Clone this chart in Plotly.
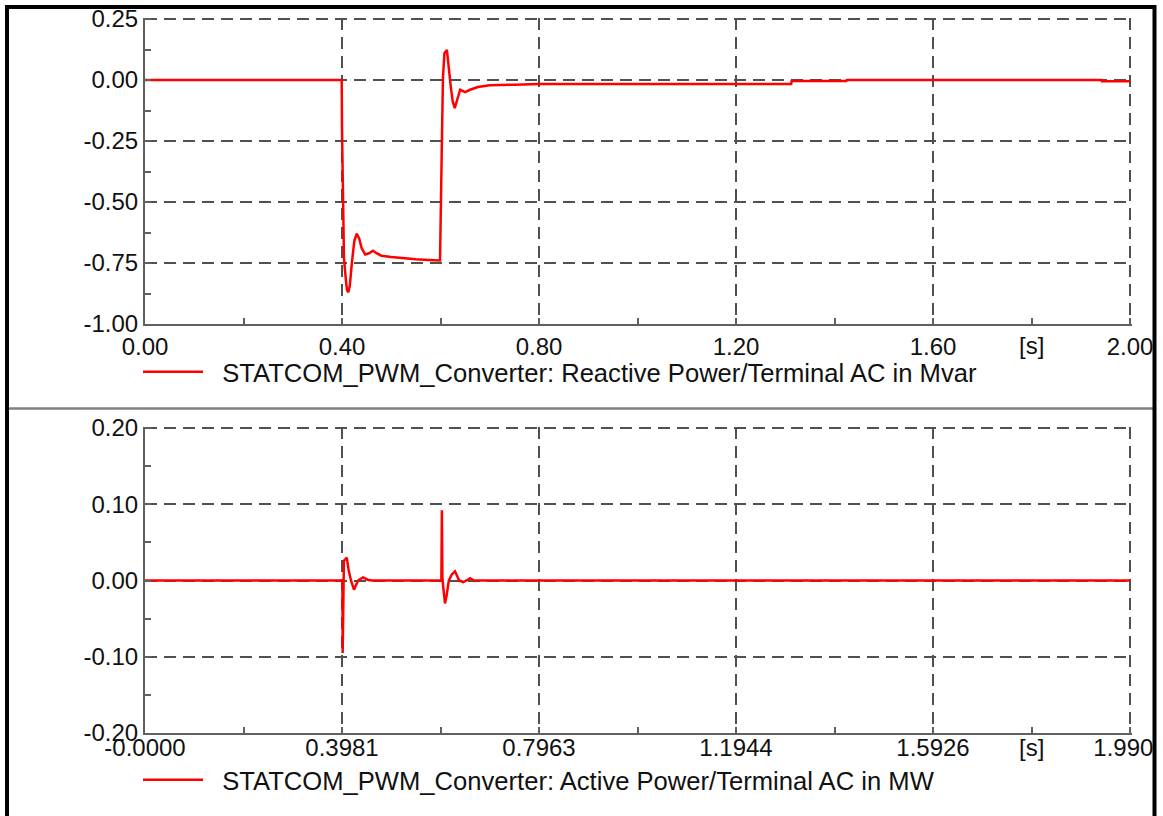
import plotly.graph_objects as go

# ---------------- data ----------------
q_time = [0.0, 0.399, 0.3994, 0.400, 0.401, 0.402, 0.404, 0.407, 0.410, 0.413, 0.416,
          0.420, 0.425, 0.430, 0.435, 0.440, 0.447, 0.455, 0.463, 0.470, 0.480, 0.500,
          0.520, 0.550, 0.575, 0.598, 0.599, 0.600, 0.601, 0.603, 0.605, 0.608, 0.613,
          0.617, 0.621, 0.625, 0.629, 0.634, 0.640, 0.650, 0.660, 0.676, 0.700, 0.750,
          0.800, 1.000, 1.312, 1.313, 1.424, 1.425, 1.942, 1.943, 2.0]
q_mvar = [0.0, 0.0, 0.0, -0.20, -0.37, -0.60, -0.73, -0.80, -0.86, -0.87, -0.84,
          -0.75, -0.66, -0.63, -0.65, -0.69, -0.715, -0.71, -0.70, -0.71, -0.72, -0.725,
          -0.73, -0.735, -0.738, -0.74, -0.74, -0.615, -0.38, -0.23, 0.01, 0.11, 0.123,
          0.03, -0.03, -0.09, -0.115, -0.08, -0.04, -0.05, -0.04, -0.029, -0.022, -0.019,
          -0.016, -0.016, -0.016, -0.004, -0.004, 0.0, 0.0, -0.005, -0.005]

p_time = [0.0, 0.399, 0.3995, 0.4005, 0.402, 0.405, 0.4077, 0.412, 0.4163, 0.4224,
          0.4305, 0.4406, 0.450, 0.4588, 0.599, 0.600, 0.601, 0.603, 0.6063, 0.610,
          0.614, 0.620, 0.6265, 0.635, 0.643, 0.650, 0.657, 0.665, 1.9907]
p_mw = [0.0, 0.0, -0.095, 0.025, 0.026, 0.028, 0.030, 0.012, 0.0, -0.012,
        0.0, 0.004, 0.001, 0.0, 0.0, 0.092, 0.004, -0.010, -0.030, -0.018,
        0.0, 0.008, 0.012, 0.0, -0.002, 0.0, 0.003, 0.0, 0.0]

top_xticks = [0.0, 0.4, 0.8, 1.2, 1.6, 2.0]
top_xtext = ["0.00", "0.40", "0.80", "1.20", "1.60", "2.00"]
top_yticks = [-1.0, -0.75, -0.5, -0.25, 0.0, 0.25]
top_ytext = ["-1.00", "-0.75", "-0.50", "-0.25", "0.00", "0.25"]

bot_xticks = [0.0, 0.39814, 0.79628, 1.19442, 1.59256, 1.9907]
bot_xtext = ["-0.0000", "0.3981", "0.7963", "1.1944", "1.5926", "1.9907"]
bot_yticks = [-0.2, -0.1, 0.0, 0.1, 0.2]
bot_ytext = ["-0.20", "-0.10", "0.00", "0.10", "0.20"]

unit_label = "[s]"
name_q = "STATCOM_PWM_Converter: Reactive Power/Terminal AC in Mvar"
name_p = "STATCOM_PWM_Converter: Active Power/Terminal AC in MW"

# ---------------- layout constants ----------------
W, H = 1163, 816
OFF = 0
FONT = "Liberation Sans, Arial, Helvetica, sans-serif"
GRID = "#505050"
AXIS = "#606060"
RED = "#ff0000"
TXT = "#111111"
GAP = "\u00a0\u00a0"  # spacing between legend line and legend text
EXT = 1.5  # px of plot area beyond the outermost grid lines (so they are drawn)


def px_x(p):
    return (p - OFF) / W


def px_y(p):
    return 1 - (p - OFF) / H


# pixel positions of the first/last ticks of each axis
X_L, X_R = 145, 1130
TOP_B, TOP_T = 324, 19
BOT_B, BOT_T = 733, 428


def ext_range(lo, hi, p_lo, p_hi):
    span = hi - lo
    return [lo, lo + span * (abs(p_hi - p_lo) + EXT) / abs(p_hi - p_lo)]


fig = go.Figure()
fig.add_trace(go.Scatter(x=q_time, y=q_mvar, mode="lines", name=GAP + name_q,
                         line=dict(color=RED, width=2.5), xaxis="x", yaxis="y",
                         legend="legend"))
fig.add_trace(go.Scatter(x=p_time, y=p_mw, mode="lines", name=GAP + name_p,
                         line=dict(color=RED, width=2.5), xaxis="x2", yaxis="y2",
                         legend="legend2"))

x_dom = [px_x(X_L), px_x(X_R + EXT)]
common_ax = dict(showline=True, linecolor=AXIS, linewidth=2, showgrid=True,
                 gridcolor=GRID, gridwidth=1.5, griddash="12px,7px", zeroline=False,
                 ticks="inside", ticklen=6, tickcolor=AXIS, tickwidth=1.5,
                 tickfont=dict(family=FONT, size=24, color=TXT),
                 ticklabeloverflow="allow", tickmode="array")


def minor(step):
    return dict(dtick=step, tick0=0, ticks="inside", ticklen=6,
                tickcolor=AXIS, tickwidth=1.5, showgrid=False)


fig.update_layout(
    width=W, height=H, autosize=False,
    margin=dict(l=0, r=0, t=0, b=0, pad=0, autoexpand=False),
    paper_bgcolor="white", plot_bgcolor="white",
    showlegend=True,
    xaxis=dict(domain=x_dom, range=ext_range(top_xticks[0], top_xticks[-1], X_L, X_R),
               tickvals=top_xticks, ticktext=top_xtext,
               anchor="y", ticklabelstandoff=0, minor=minor(0.2), **common_ax),
    yaxis=dict(domain=[px_y(TOP_B), px_y(TOP_T - EXT)],
               range=ext_range(top_yticks[0], top_yticks[-1], TOP_B, TOP_T),
               tickvals=top_yticks, ticktext=top_ytext, anchor="x",
               minor=minor(0.125), **common_ax),
    xaxis2=dict(domain=x_dom, range=ext_range(bot_xticks[0], bot_xticks[-1], X_L, X_R),
                tickvals=bot_xticks, ticktext=bot_xtext,
                anchor="y2", ticklabelstandoff=-8, minor=minor(0.19907), **common_ax),
    yaxis2=dict(domain=[px_y(BOT_B), px_y(BOT_T - EXT)],
                range=ext_range(bot_yticks[0], bot_yticks[-1], BOT_B, BOT_T),
                tickvals=bot_yticks, ticktext=bot_ytext, anchor="x2",
                minor=minor(0.05), **common_ax),
    legend=dict(x=px_x(138), y=px_y(372), xanchor="left", yanchor="middle",
                itemwidth=60, bgcolor="rgba(0,0,0,0)",
                font=dict(family=FONT, size=25.6, color=TXT)),
    legend2=dict(x=px_x(138), y=px_y(780), xanchor="left", yanchor="middle",
                 itemwidth=60, bgcolor="rgba(0,0,0,0)",
                 font=dict(family=FONT, size=25.6, color=TXT)),
)

# "[s]" unit labels at the 90 % positions of the time axes
fig.add_annotation(x=top_xticks[-1] * 0.9, xref="x", y=px_y(345), yref="paper",
                   text=unit_label, showarrow=False,
                   font=dict(family=FONT, size=24, color=TXT),
                   xanchor="center", yanchor="middle")
fig.add_annotation(x=bot_xticks[-1] * 0.9, xref="x2", y=px_y(747), yref="paper",
                   text=unit_label, showarrow=False,
                   font=dict(family=FONT, size=24, color=TXT),
                   xanchor="center", yanchor="middle")

# window area outside the right frame edge (clips overflowing tick labels)
fig.add_shape(type="rect", xref="paper", yref="paper", x0=px_x(1155), x1=1.01,
              y0=-0.01, y1=1.01, fillcolor="white", line=dict(width=0), layer="above")
# frame and separator
fig.add_shape(type="line", xref="paper", yref="paper", x0=px_x(9), x1=px_x(1153),
              y0=px_y(408.5), y1=px_y(408.5), line=dict(color="#808080", width=2.5),
              layer="above")
fig.add_shape(type="path", xref="paper", yref="paper",
              path=f"M {px_x(7)} -0.05 L {px_x(7)} {px_y(7)} L {px_x(1154.5)} {px_y(7)} "
                   f"L {px_x(1154.5)} -0.05",
              line=dict(color="black", width=4), layer="above")

fig.write_html("out.html",
               config={"displayModeBar": False},
               post_script="document.body.style.margin='0px';")
